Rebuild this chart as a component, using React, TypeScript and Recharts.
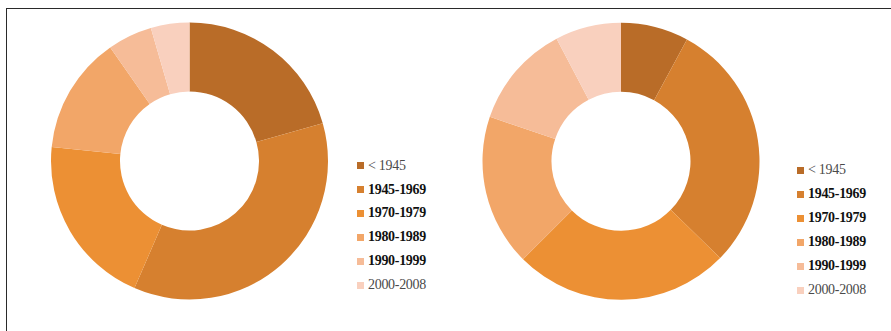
import { PieChart, Pie, Cell } from "recharts";

const periods = ["< 1945", "1945-1969", "1970-1979", "1980-1989", "1990-1999", "2000-2008"];
const boldPeriods = ["1945-1969", "1970-1979", "1980-1989", "1990-1999"];
const colors = ["#B96C28", "#D6802F", "#EC9034", "#F2A668", "#F6BC98", "#F9D0BE"];

const leftShares = [20.6, 35.9, 20.1, 13.7, 5.2, 4.5];
const rightShares = [7.9, 29.4, 25.2, 17.7, 12.1, 7.7];

const toRows = (vals: number[]) => periods.map((p, i) => ({ name: p, value: vals[i] }));

const Legend = ({ left, top, gap }: { left: number; top: number; gap: number }) => (
  <div style={{ position: "absolute", left, top }}>
    {periods.map((p, i) => {
      const bold = boldPeriods.includes(p);
      return (
        <div
          key={p}
          style={{
            position: "absolute",
            top: i * gap,
            left: 0,
            display: "flex",
            alignItems: "center",
            whiteSpace: "nowrap",
            height: 16,
            marginTop: -8,
          }}
        >
          <span style={{ width: 7, height: 7, background: colors[i], display: "inline-block", marginRight: 4 }} />
          <span
            style={{
              fontFamily: '"Liberation Serif", serif',
              fontSize: 14,
              fontWeight: bold ? 700 : 400,
              color: bold ? "#111" : "#4a4a4a",
              letterSpacing: -0.3,
            }}
          >
            {p}
          </span>
        </div>
      );
    })}
  </div>
);

export default function App() {
  return (
    <div style={{ position: "absolute", left: 0, top: 0, width: 891, height: 331, background: "#fff", overflow: "hidden" }}>
      {/* frame lines top and left */}
      <div style={{ position: "absolute", left: 6, top: 7.5, right: 0, height: 1.6, background: "#2a2a2a" }} />
      <div style={{ position: "absolute", left: 5.5, top: 7.5, bottom: 0, width: 1.6, background: "#2a2a2a" }} />

      <div style={{ position: "absolute", left: 0, top: 0 }}>
        <PieChart width={891} height={331} margin={{ top: 0, right: 0, bottom: 0, left: 0 }}>
          <Pie
            data={toRows(leftShares)}
            dataKey="value"
            cx={189.5}
            cy={161}
            innerRadius={69.5}
            outerRadius={138.5}
            startAngle={90}
            endAngle={-270}
            stroke="none"
            isAnimationActive={false}
          >
            {leftShares.map((_, i) => (
              <Cell key={i} fill={colors[i]} />
            ))}
          </Pie>
          <Pie
            data={toRows(rightShares)}
            dataKey="value"
            cx={621}
            cy={161.3}
            innerRadius={69.5}
            outerRadius={138.5}
            startAngle={90}
            endAngle={-270}
            stroke="none"
            isAnimationActive={false}
          >
            {rightShares.map((_, i) => (
              <Cell key={i} fill={colors[i]} />
            ))}
          </Pie>
        </PieChart>
      </div>

      <Legend left={357} top={165.7} gap={23.9} />
      <Legend left={797} top={170} gap={24} />
    </div>
  );
}
